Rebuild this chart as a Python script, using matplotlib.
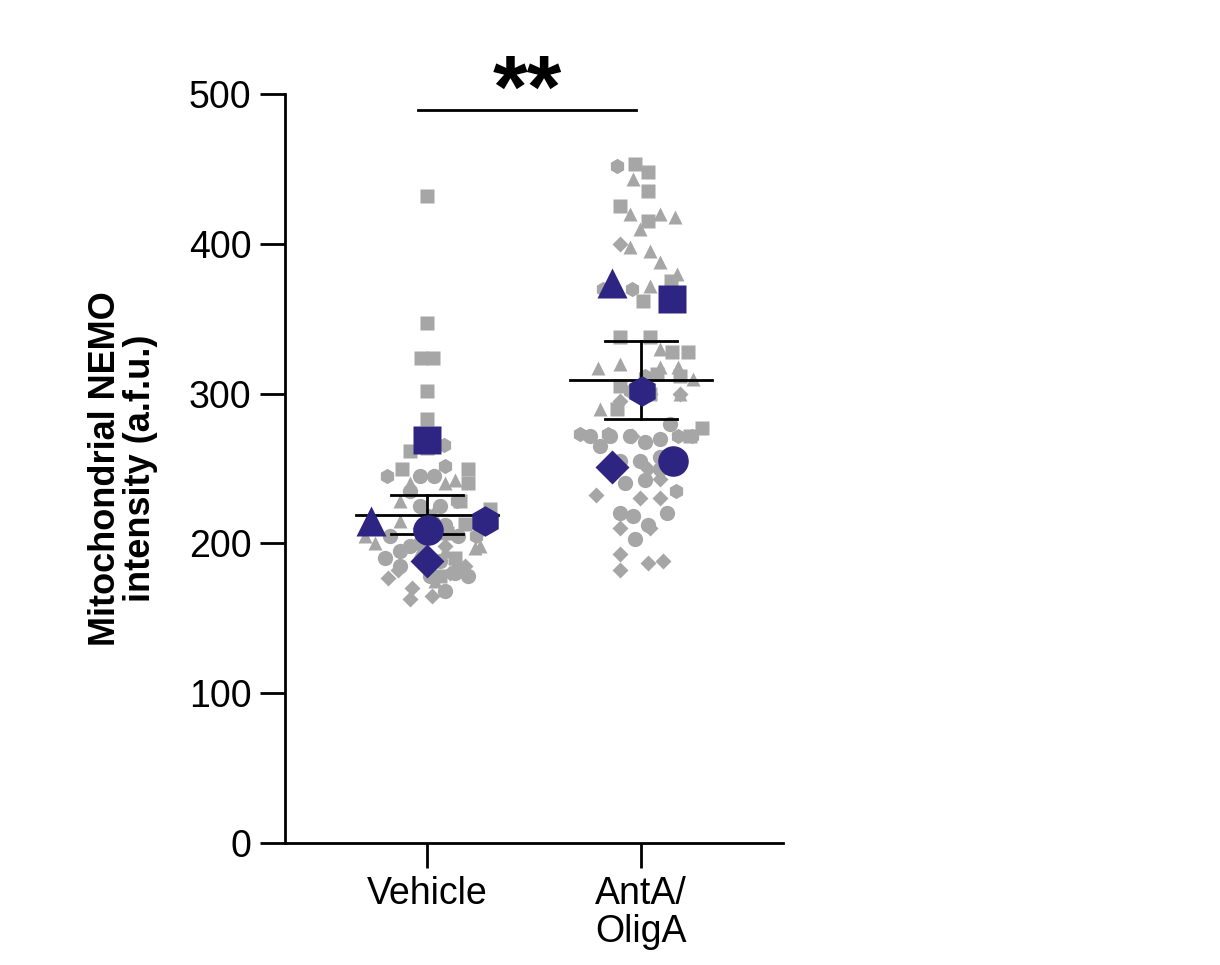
import matplotlib
matplotlib.use("Agg")
import matplotlib.pyplot as plt
import numpy as np

plt.rcParams['font.family'] = 'Liberation Sans'

categories = ["Vehicle", "AntA/\nOligA"]
# per-group gray points: (x offset in px-like units, value)
veh_sq = [(0,432),(0,347),(-6,324),(6,324),(0,302),(0,283),(0,264),(-17,262),(-25,250),(41,250),(41,240),(33,228),(63,223),(38,213),(20,207),(28,190),(31,182),(13,178)]
veh_tri = [(-17,240),(18,240),(28,242),(-27,228),(6,220),(-27,215),(-62,205),(-52,200),(48,197),(-7,195),(8,175),(18,195),(53,198)]
veh_cir = [(-7,245),(7,245),(-17,235),(-7,225),(1,218),(13,225),(18,212),(31,205),(-37,205),(-27,195),(-17,198),(-7,200),(13,188),(28,180),(41,178),(-42,190),(18,168),(3,178),(-27,185)]
veh_hex = [(-40,245),(18,252),(17,266),(30,228),(49,205)]
veh_dia = [(-39,177),(-29,182),(-15,170),(-17,163),(5,165),(23,180),(38,185),(18,198),(53,208),(-7,210)]
ant_sq = [(-6,453),(7,448),(-21,425),(7,435),(7,415),(30,375),(2,362),(31,328),(9,338),(-21,338),(47,328),(16,313),(39,312),(9,300),(-21,305),(-24,290),(61,277),(49,272)]
ant_tri = [(-8,443),(-11,420),(19,420),(-1,410),(34,418),(9,395),(-11,398),(19,388),(36,380),(9,372),(-43,317),(-21,320),(19,318),(37,318),(52,310),(-41,290),(39,300),(19,330)]
ant_cir = [(-11,272),(4,268),(19,270),(-41,265),(-21,255),(-1,255),(19,258),(39,258),(-16,240),(4,242),(19,250),(26,220),(-21,220),(-8,218),(7,212),(-6,203),(-31,272),(-51,272),(29,280)]
ant_hex = [(-61,273),(-33,273),(37,272),(51,272),(24,253),(35,235),(-38,370),(-9,370),(-24,452),(4,312),(-11,302)]
ant_dia = [(-21,400),(-21,295),(-8,302),(-9,272),(-45,232),(7,250),(19,243),(-1,230),(19,230),(-21,210),(9,210),(-21,193),(-21,182),(7,187),(22,188),(39,300),(9,300)]
# replicate means (x offset px, value)
veh_means = {'s':(0,269),'^':(-56,215),'o':(1,209),'h':(58,215),'D':(0,188)}
ant_means = {'^':(-29,374),'s':(31,363),'h':(1,302),'D':(-29,251),'o':(32,255)}
group_mean = [219, 309]
group_sem = [13, 26]

PX = 214.0
gray = '#a6a6a6'
blue = '#2e2583'
fig = plt.figure(figsize=(12.2, 9.65), dpi=100)
ax = fig.add_axes([285/1220, 122/965, 498/1220, 749/965])

groups = [
    (0, [('s',veh_sq),('^',veh_tri),('o',veh_cir),('h',veh_hex),('D',veh_dia)], veh_means),
    (1, [('s',ant_sq),('^',ant_tri),('o',ant_cir),('h',ant_hex),('D',ant_dia)], ant_means),
]
sizes = {'s':10,'^':10.5,'o':11,'h':11,'D':8.5}
for gx, sets, means in groups:
    for m, pts in sets:
        a = np.array(pts, float)
        ax.plot(gx + a[:,0]/PX, a[:,1], m, color=gray, ms=sizes[m], mec='none', zorder=2)
for i in range(2):
    m, s = group_mean[i], group_sem[i]
    ax.plot([i-0.33, i+0.33], [m, m], color='black', lw=2, zorder=3)
    ax.plot([i-0.17, i+0.17], [m+s, m+s], color='black', lw=2, zorder=3)
    ax.plot([i-0.17, i+0.17], [m-s, m-s], color='black', lw=2, zorder=3)
    ax.plot([i, i], [m-s, m+s], color='black', lw=2, zorder=3)
for gx, sets, means in groups:
    for m, (dx, v) in means.items():
        ax.plot(gx + dx/PX, v, m, color=blue, ms=sizes[m]*2.0, mec='none', zorder=4)

ax.set_xlim(-142/PX, 356/PX)
ax.set_ylim(0, 500)
ax.set_xticks([0, 1])
ax.set_xticklabels(categories, fontsize=27, linespacing=1.05)
for t in ax.get_xticklabels():
    t.set_multialignment('left')
ax.set_yticks([0,100,200,300,400,500])
ax.tick_params(labelsize=27, width=2, length=18, direction='out', pad=6)
for sp in ['top','right']:
    ax.spines[sp].set_visible(False)
for sp in ['left','bottom']:
    ax.spines[sp].set_linewidth(2)
ax.set_ylabel("Mitochondrial NEMO\nintensity (a.f.u.)", fontsize=26, fontweight='bold', labelpad=22, linespacing=1.0)
ax.plot([-9/PX, 209/PX], [489, 489], color='black', lw=2, clip_on=False)
ax.text(100/PX, 472, "**", ha='center', va='bottom', fontsize=64, fontweight='bold', clip_on=False)
fig.savefig("out.png", dpi=100)
